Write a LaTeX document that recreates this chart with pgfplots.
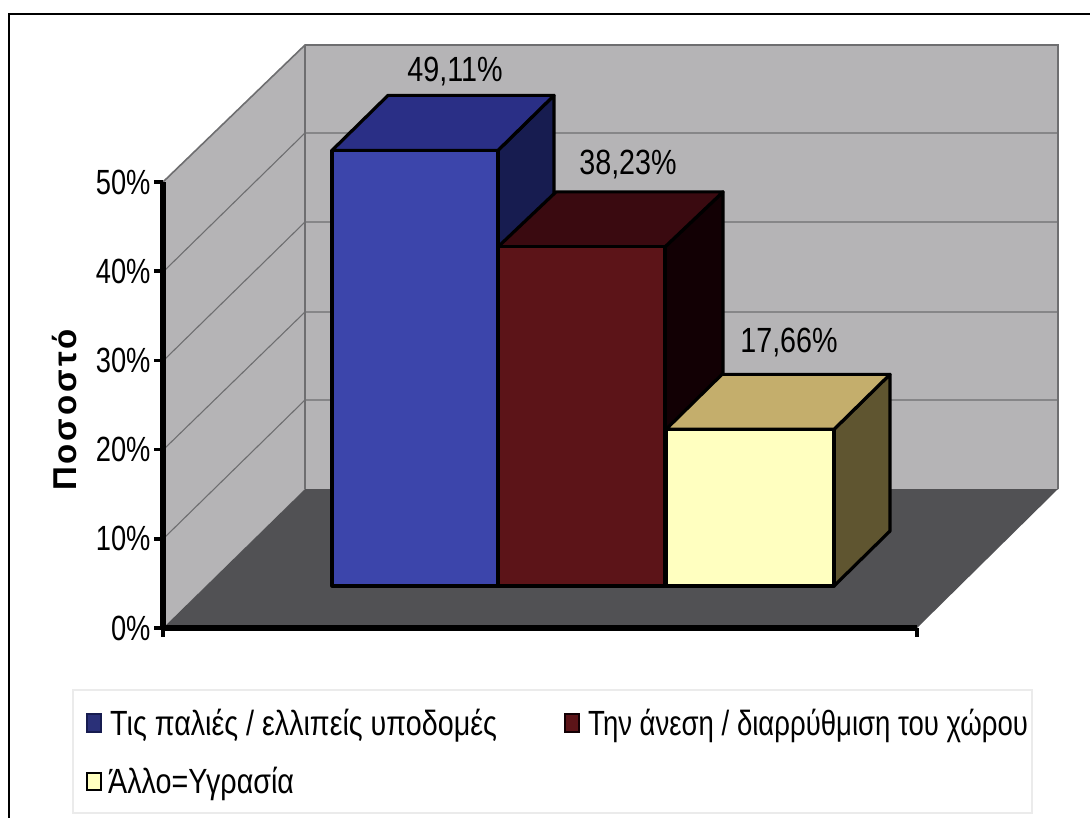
\documentclass[border=0pt]{standalone}
\usepackage{pgfplots}
\pgfplotsset{compat=1.18}
\usepackage{fontspec}
\setmainfont[FakeStretch=0.82]{Liberation Sans}
\newfontfamily\tickfam[FakeStretch=0.78]{Liberation Sans}
\newfontfamily\lblfont[LetterSpace=9]{Liberation Sans}
\newcommand{\tickfont}{\tickfam\fontsize{35}{38}\selectfont}
\newcommand{\valfont}{\fontsize{35}{38}\selectfont}
\newcommand{\legfont}{\fontsize{35}{38}\selectfont}

\definecolor{wall}{HTML}{B5B4B6}
\definecolor{floorc}{HTML}{515154}
\definecolor{gridc}{HTML}{6E6E70}
\definecolor{blueF}{HTML}{3C45AB}
\definecolor{blueT}{HTML}{2A2F86}
\definecolor{blueS}{HTML}{171C50}
\definecolor{redF}{HTML}{5C1418}
\definecolor{redT}{HTML}{3A0A10}
\definecolor{redS}{HTML}{120004}
\definecolor{yelF}{HTML}{FFFFC0}
\definecolor{yelT}{HTML}{C4AE6C}
\definecolor{yelS}{HTML}{5F5530}

\pgfplotsset{
  face/.style={fill=#1,draw=black,line width=3.2pt,line join=round,no marks,forget plot},
}

\begin{document}
\begin{tikzpicture}[x=1pt,y=1pt]
\path[use as bounding box,fill=white] (0,0) rectangle (1090pt,818pt);

% scenery, in pixel coordinates of the picture
\begin{axis}[
  at={(0pt,0pt)},anchor=south west,
  scale only axis,width=1090pt,height=818pt,
  xmin=0,xmax=1090,ymin=0,ymax=818,y dir=reverse,
  hide axis,clip=false,
]
  % outer frame
  \addplot[black,line width=2.2pt,no marks] coordinates {(9,818) (9,14) (1090,14)};
  % walls and floor
  \addplot[fill=wall,draw=none,no marks] coordinates {(305,45) (1058,45) (1058,489) (305,489)} --cycle;
  \addplot[fill=wall,draw=none,no marks] coordinates {(163,182) (305,45) (305,489) (163,628)} --cycle;
  \addplot[fill=floorc,draw=none,no marks] coordinates {(163,628) (917,628) (1058,489) (305,489)} --cycle;
  \addplot[gridc,line width=1.6pt,no marks] coordinates {(163,182) (305,45) (1058,45) (1058,489)};
  \addplot[gridc,line width=1.6pt,no marks] coordinates {(305,45) (305,489)};
  % gridlines, side wall then back wall
  \addplot[gridc,line width=1.1pt,no marks] coordinates {(163,272) (305,133) (1058,133)};
  \addplot[gridc,line width=1.1pt,no marks] coordinates {(163,361) (305,222) (1058,222)};
  \addplot[gridc,line width=1.1pt,no marks] coordinates {(163,450) (305,312) (1058,312)};
  \addplot[gridc,line width=1.1pt,no marks] coordinates {(163,539) (305,400) (1058,400)};
  % legend
  \addplot[draw=black!8,line width=1.2pt,no marks] coordinates {(73,690) (1032,690) (1032,813) (73,813)} --cycle;
  \addplot[fill=blueF!70!black,draw=blueS,line width=2pt,no marks] coordinates {(87,714) (101,714) (101,732) (87,732)} --cycle;
  \addplot[fill=redF,draw=redS,line width=2pt,no marks] coordinates {(565,714) (579,714) (579,732) (565,732)} --cycle;
  \addplot[fill=yelF,draw=black,line width=2pt,no marks] coordinates {(87,773) (101,773) (101,790) (87,790)} --cycle;
  \node[anchor=base west,inner sep=0pt,font=\legfont] at (axis cs:110,735) {Τις παλιές / ελλιπείς υποδομές};
  \node[anchor=base west,inner sep=0pt,font=\legfont,xscale=0.96] at (axis cs:588,735) {Την άνεση / διαρρύθμιση του χώρου};
  \node[anchor=base west,inner sep=0pt,font=\legfont] at (axis cs:108,793) {Άλλο=Υγρασία};
\end{axis}

% percentage axis
\begin{axis}[
  at={(163pt,190pt)},anchor=south west,
  scale only axis,width=754pt,height=446pt,
  xmin=0,xmax=754,ymin=0,ymax=50,
  axis lines=left,
  axis line style={-,line width=5.5pt,black},
  xtick={0,754},xticklabels={},
  ytick={0,10,20,30,40,50},
  yticklabel={\pgfmathprintnumber{\tick}\%},
  /pgf/number format/assume math mode=true,
  ticklabel style={font=\tickfont},
  tick align=outside,
  major tick length=9pt,
  tick style={black,line width=3.5pt},
  ylabel={\lblfont\bfseries Ποσοστό},
  every axis y label/.style={at={(axis description cs:-0.130,0.489)},rotate=90,anchor=center,font=\fontsize{33}{36}\selectfont},
  clip=false,
]
\end{axis}

% bars: x in pixels, y in percent, depth of 56 px across and 6.2 percent up
\begin{axis}[
  at={(0pt,232pt)},anchor=south west,
  scale only axis,width=1090pt,height=443.5pt,
  xmin=0,xmax=1090,ymin=0,ymax=50,
  hide axis,clip=false,
]
  \addplot[face=blueS] coordinates {(498,0) (554,6.2) (554,55.31) (498,49.11)} --cycle;
  \addplot[face=blueT] coordinates {(332,49.11) (498,49.11) (554,55.31) (388,55.31)} --cycle;
  \addplot[face=blueF] coordinates {(332,0) (498,0) (498,49.11) (332,49.11)} --cycle;

  \addplot[face=redS] coordinates {(665,0) (723,6.2) (723,44.43) (665,38.23)} --cycle;
  \addplot[face=redT] coordinates {(498,38.23) (665,38.23) (723,44.43) (556,44.43)} --cycle;
  \addplot[face=redF] coordinates {(498,0) (665,0) (665,38.23) (498,38.23)} --cycle;

  \addplot[face=yelS] coordinates {(834,0) (890,6.2) (890,23.86) (834,17.66)} --cycle;
  \addplot[face=yelT] coordinates {(666,17.66) (834,17.66) (890,23.86) (722,23.86)} --cycle;
  \addplot[face=yelF] coordinates {(666,0) (834,0) (834,17.66) (666,17.66)} --cycle;

  \node[font=\valfont,inner sep=0pt] at (axis cs:455,58.0) {49,11\%};
  \node[font=\valfont,inner sep=0pt] at (axis cs:628,47.5) {38,23\%};
  \node[font=\valfont,inner sep=0pt] at (axis cs:789,27.5) {17,66\%};
\end{axis}
\end{tikzpicture}
\end{document}
